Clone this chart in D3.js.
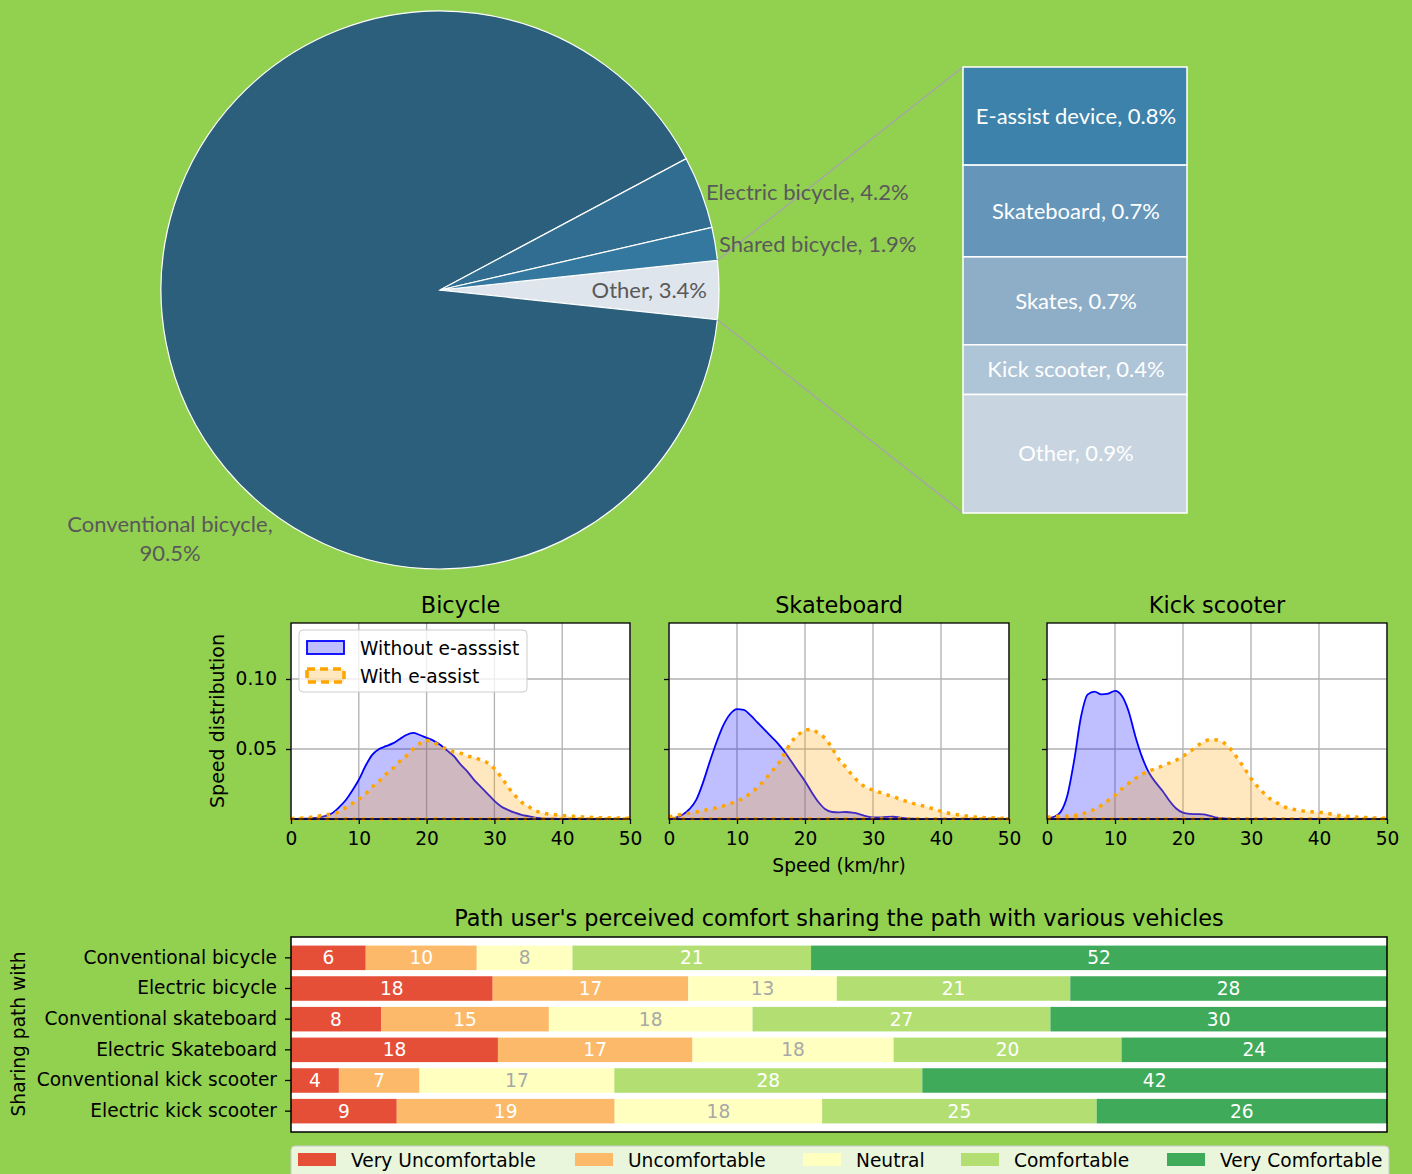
<!DOCTYPE html>
<html>
<head>
<meta charset="utf-8">
<script src="https://cdn.jsdelivr.net/npm/d3@7"></script>
<style>
  body { margin: 0; background: #92d050; }
  svg { display: block; }
</style>
</head>
<body>
<div id="chart"></div>
<script>
// ---- pie of vehicle use ----
var pieLabels = ["Other", "Conventional bicycle", "Electric bicycle", "Shared bicycle"];
var pieValues = [3.4, 90.5, 4.2, 1.9];

// breakdown of "Other"
var otherLabels = ["E-assist device", "Skateboard", "Skates", "Kick scooter", "Other"];
var otherValues = [0.77, 0.72, 0.69, 0.39, 0.93];

// ---- speed distributions (density per km/hr) ----
var speeds = [0,1,2,3,4,5,6,7,8,9,10,11,12,13,14,15,16,17,18,19,20,21,22,23,24,25,
              26,27,28,29,30,31,32,33,34,35,36,37,38,39,40,41,42,43,44,45,46,47,48,49,50];
var bicycleWithout = [0,0,0.0002,0.0005,0.001,0.002,0.004,0.008,0.013,0.02,0.028,0.038,0.046,0.05,0.052,0.054,
  0.057,0.06,0.0615,0.06,0.058,0.056,0.053,0.049,0.045,0.039,0.034,0.028,0.023,0.018,0.013,0.009,0.0065,
  0.0045,0.003,0.002,0.001,0.0005,0.0003,0.0002,0.0001,0,0,0,0,0,0,0,0,0,0];
var bicycleWith = [0.0003,0.0005,0.0008,0.0012,0.002,0.003,0.0035,0.005,0.008,0.011,0.014,0.018,0.023,0.027,
  0.032,0.036,0.041,0.045,0.05,0.054,0.056,0.055,0.052,0.05,0.048,0.047,0.045,0.044,0.042,0.04,0.036,0.03,
  0.023,0.017,0.012,0.009,0.006,0.0045,0.0035,0.003,0.0025,0.002,0.0018,0.0015,0.0012,0.001,0.0009,0.0008,
  0.0007,0.0006,0.0005];
var skateWithout = [0,0.001,0.003,0.007,0.0136,0.026,0.041,0.055,0.067,0.075,0.0785,0.078,0.074,0.069,0.064,
  0.059,0.054,0.048,0.041,0.034,0.027,0.019,0.012,0.007,0.005,0.0048,0.005,0.0045,0.0035,0.002,0.0012,
  0.0012,0.0015,0.0016,0.001,0.0005,0.0002,0,0,0,0,0,0,0,0,0,0,0,0,0,0];
var skateWith = [0.0015,0.0025,0.0035,0.0042,0.005,0.006,0.007,0.008,0.0093,0.011,0.0128,0.015,0.0185,0.0225,
  0.0275,0.0335,0.039,0.047,0.055,0.06,0.0635,0.064,0.061,0.0575,0.0505,0.0425,0.037,0.031,0.026,0.0225,
  0.0207,0.019,0.0173,0.016,0.014,0.0125,0.011,0.0098,0.0085,0.007,0.0055,0.0043,0.0034,0.0026,0.0019,
  0.0014,0.0011,0.0009,0.0007,0.0006,0.0005];
var kickWithout = [0,0.0015,0.005,0.017,0.042,0.073,0.089,0.091,0.089,0.0895,0.0915,0.088,0.077,0.059,0.044,
  0.033,0.026,0.02,0.013,0.0075,0.0045,0.0037,0.0035,0.0033,0.0022,0.001,0.0005,0.0002,0,0,0,0,0,0,0,0,0,
  0,0,0,0,0,0,0,0,0,0,0,0,0,0];
var kickWith = [0.0012,0.0017,0.002,0.0022,0.0025,0.0035,0.005,0.007,0.0098,0.0133,0.017,0.0215,0.0255,0.029,
  0.032,0.0343,0.036,0.038,0.04,0.042,0.045,0.048,0.052,0.055,0.0568,0.0565,0.0545,0.05,0.0435,0.0365,0.029,
  0.023,0.018,0.0137,0.011,0.0085,0.0072,0.0062,0.0055,0.0051,0.0049,0.0042,0.0033,0.0025,0.002,0.0015,
  0.0012,0.001,0.0007,0.0006,0.0005];
var panelTitles = ["Bicycle", "Skateboard", "Kick scooter"];
var speedTicks = [0, 10, 20, 30, 40, 50];
var densityTicks = [0.05, 0.10];

// ---- perceived comfort (% of respondents) ----
var vehicles = ["Conventional bicycle", "Electric bicycle", "Conventional skateboard",
                "Electric Skateboard", "Conventional kick scooter", "Electric kick scooter"];
var comfortLevels = ["Very Uncomfortable", "Uncomfortable", "Neutral", "Comfortable", "Very Comfortable"];
var veryUncomfortable = [6.82, 18.4, 8.22, 18.88, 4.37, 9.65];
var uncomfortable = [10.13, 17.85, 15.31, 17.75, 7.36, 19.88];
var neutral = [8.73, 13.55, 18.58, 18.35, 17.77, 18.93];
var comfortable = [21.77, 21.3, 27.18, 20.8, 28.1, 25.05];
var veryComfortable = [52.55, 28.9, 30.71, 24.22, 42.4, 26.49];

var W = 1412, H = 1174;
var mplFont = "'DejaVu Sans', sans-serif";
var xlFont = "Lato, 'Open Sans', sans-serif";
var fs = "18.6px";      // matplotlib label size
var fsTitle = "22.4px"; // matplotlib title size

var svg = d3.select("#chart").append("svg")
    .attr("width", W)
    .attr("height", H);

svg.append("rect").attr("width", W).attr("height", H).attr("fill", "#92d050");

// =================== PIE ===================
var cx = 440, cy = 290, r = 279;
var pieColors = ["#dfe5ec", "#2c5f7c", "#306d90", "#35789f"];
var otherShare = pieValues[0] / d3.sum(pieValues);
var a0 = Math.PI / 2 - otherShare * Math.PI;

var pie = d3.pie().sort(null).value(function(d) { return d; })
    .startAngle(a0).endAngle(a0 + 2 * Math.PI);
var arcs = pie(pieValues);
var arc = d3.arc().innerRadius(0).outerRadius(r);

var pieG = svg.append("g").attr("transform", "translate(" + cx + "," + cy + ")");
pieG.selectAll("path")
    .data(arcs)
    .enter()
    .append("path")
    .attr("d", arc)
    .attr("fill", function(d, i) { return pieColors[i]; })
    .attr("stroke", "#ffffff")
    .attr("stroke-width", 1.2);

// bar of "Other"
var barX = 963, barW = 224;
var barY = d3.scaleLinear().domain([0, d3.sum(otherValues)]).range([67, 513]);
var otherColors = ["#3c82ab", "#6596ba", "#8eaec7", "#aec4d7", "#c8d5e0"];
var cum = 0;
var otherStack = otherValues.map(function(v, i) {
    var s = { label: otherLabels[i], value: v, y0: cum, y1: cum + v, i: i };
    cum += v;
    return s;
});

// connector lines from the "Other" slice to the bar
var oa = arcs[0];
var p1 = [cx + r * Math.sin(oa.startAngle), cy - r * Math.cos(oa.startAngle)];
var p2 = [cx + r * Math.sin(oa.endAngle), cy - r * Math.cos(oa.endAngle)];
svg.append("line")
    .attr("x1", p1[0]).attr("y1", p1[1])
    .attr("x2", barX).attr("y2", barY(0))
    .attr("stroke", "#a6a6a6").attr("stroke-width", 1.5);
svg.append("line")
    .attr("x1", p2[0]).attr("y1", p2[1])
    .attr("x2", barX).attr("y2", barY(cum))
    .attr("stroke", "#a6a6a6").attr("stroke-width", 1.5);

svg.selectAll(".other-seg")
    .data(otherStack)
    .enter()
    .append("rect")
    .attr("class", "other-seg")
    .attr("x", barX)
    .attr("y", function(d) { return barY(d.y0); })
    .attr("width", barW)
    .attr("height", function(d) { return barY(d.y1) - barY(d.y0); })
    .attr("fill", function(d) { return otherColors[d.i]; })
    .attr("stroke", "#ffffff")
    .attr("stroke-width", 1.5);

svg.selectAll(".other-label")
    .data(otherStack)
    .enter()
    .append("text")
    .attr("class", "other-label")
    .attr("x", barX + barW / 2 + 1)
    .attr("y", function(d) { return (barY(d.y0) + barY(d.y1)) / 2; })
    .attr("dy", "0.35em")
    .attr("text-anchor", "middle")
    .attr("fill", "#ffffff")
    .style("font-family", xlFont)
    .style("font-size", "22px")
    .text(function(d) { return d.label + ", " + d3.format(".1f")(d.value) + "%"; });

// pie labels
var pieText = svg.append("g")
    .style("font-family", xlFont)
    .style("font-size", "22px")
    .attr("fill", "#595959");
pieText.append("text").attr("x", 707).attr("y", 290).attr("dy", "0.35em")
    .attr("text-anchor", "end")
    .text(pieLabels[0] + ", " + pieValues[0] + "%");
pieText.append("text").attr("x", 170).attr("y", 524).attr("dy", "0.35em")
    .attr("text-anchor", "middle")
    .text(pieLabels[1] + ",");
pieText.append("text").attr("x", 170).attr("y", 553).attr("dy", "0.35em")
    .attr("text-anchor", "middle")
    .text(pieValues[1] + "%");
pieText.append("text").attr("x", 706).attr("y", 192).attr("dy", "0.35em")
    .text(pieLabels[2] + ", " + pieValues[2] + "%");
pieText.append("text").attr("x", 719).attr("y", 244).attr("dy", "0.35em")
    .text(pieLabels[3] + ", " + pieValues[3] + "%");

// =================== DENSITY PANELS ===================
var panels = [
    { x0: 291, x1: 630, without: bicycleWithout, withE: bicycleWith },
    { x0: 669, x1: 1009, without: skateWithout, withE: skateWith },
    { x0: 1047, x1: 1387, without: kickWithout, withE: kickWith }
];
var pTop = 623, pBottom = 819;
var yDen = d3.scaleLinear().domain([0, 0.14]).range([pBottom, pTop]);

panels.forEach(function(p, pi) {
    var xSp = d3.scaleLinear().domain([0, 50]).range([p.x0, p.x1]);
    var g = svg.append("g");

    g.append("rect")
        .attr("x", p.x0).attr("y", pTop)
        .attr("width", p.x1 - p.x0).attr("height", pBottom - pTop)
        .attr("fill", "#ffffff");

    // grid
    g.selectAll(".vgrid")
        .data(speedTicks)
        .enter()
        .append("line")
        .attr("x1", function(d) { return xSp(d); })
        .attr("x2", function(d) { return xSp(d); })
        .attr("y1", pTop).attr("y2", pBottom)
        .attr("stroke", "#b0b0b0").attr("stroke-width", 1.3);
    g.selectAll(".hgrid")
        .data(densityTicks)
        .enter()
        .append("line")
        .attr("x1", p.x0).attr("x2", p.x1)
        .attr("y1", function(d) { return yDen(d); })
        .attr("y2", function(d) { return yDen(d); })
        .attr("stroke", "#b0b0b0").attr("stroke-width", 1.3);

    var area = d3.area()
        .x(function(d, i) { return xSp(speeds[i]); })
        .y0(yDen(0))
        .y1(function(d) { return yDen(d); })
        .curve(d3.curveMonotoneX);

    g.append("path")
        .attr("d", area(p.without) + "Z")
        .attr("fill", "rgba(0,0,255,0.25)")
        .attr("stroke", "#0000ff")
        .attr("stroke-width", 1.8);
    g.append("path")
        .attr("d", area(p.withE) + "Z")
        .attr("fill", "rgba(255,165,0,0.25)")
        .attr("stroke", "#ffa500")
        .attr("stroke-width", 3.5)
        .attr("stroke-dasharray", "3.5,5.5");

    // frame
    g.append("rect")
        .attr("x", p.x0).attr("y", pTop)
        .attr("width", p.x1 - p.x0).attr("height", pBottom - pTop)
        .attr("fill", "none").attr("stroke", "#000").attr("stroke-width", 1.3);

    // x axis
    var xAxis = g.append("g")
        .attr("transform", "translate(0," + pBottom + ")")
        .call(d3.axisBottom(xSp).tickValues(speedTicks).tickSize(5).tickPadding(8));
    xAxis.select(".domain").remove();
    xAxis.selectAll("text").style("font-family", mplFont).style("font-size", fs).attr("fill", "#000");
    xAxis.selectAll("line").attr("stroke-width", 1.3);

    // y axis
    var yAxis = g.append("g")
        .attr("transform", "translate(" + p.x0 + ",0)")
        .call(d3.axisLeft(yDen).tickValues(densityTicks).tickSize(5).tickPadding(9)
            .tickFormat(pi === 0 ? d3.format(".2f") : ""));
    yAxis.select(".domain").remove();
    yAxis.selectAll("text").style("font-family", mplFont).style("font-size", fs).attr("fill", "#000");
    yAxis.selectAll("line").attr("stroke-width", 1.3);

    g.append("text")
        .attr("x", (p.x0 + p.x1) / 2)
        .attr("y", 605)
        .attr("dy", "0.35em")
        .attr("text-anchor", "middle")
        .style("font-family", mplFont)
        .style("font-size", fsTitle)
        .text(panelTitles[pi]);
});

svg.append("text")
    .attr("transform", "translate(217,721) rotate(-90)")
    .attr("dy", "0.35em")
    .attr("text-anchor", "middle")
    .style("font-family", mplFont)
    .style("font-size", "19px")
    .text("Speed distribution");
svg.append("text")
    .attr("x", 839).attr("y", 865)
    .attr("dy", "0.35em")
    .attr("text-anchor", "middle")
    .style("font-family", mplFont)
    .style("font-size", fs)
    .text("Speed (km/hr)");

// legend in first panel
var lg = svg.append("g");
lg.append("rect")
    .attr("x", 299).attr("y", 630).attr("width", 228).attr("height", 62).attr("rx", 4)
    .attr("fill", "rgba(255,255,255,0.8)").attr("stroke", "#cccccc");
lg.append("rect")
    .attr("x", 307).attr("y", 641).attr("width", 37).attr("height", 13)
    .attr("fill", "rgba(0,0,255,0.25)").attr("stroke", "#0000ff").attr("stroke-width", 1.8);
lg.append("rect")
    .attr("x", 307).attr("y", 669).attr("width", 37).attr("height", 13)
    .attr("fill", "rgba(255,165,0,0.25)").attr("stroke", "#ffa500").attr("stroke-width", 3.5)
    .attr("stroke-dasharray", "8,5");
lg.append("text").attr("x", 360).attr("y", 648).attr("dy", "0.35em")
    .style("font-family", mplFont).style("font-size", fs).text("Without e-asssist");
lg.append("text").attr("x", 360).attr("y", 676).attr("dy", "0.35em")
    .style("font-family", mplFont).style("font-size", fs).text("With e-assist");

// =================== COMFORT BARS ===================
var bx0 = 291, bx1 = 1387, by0 = 937, by1 = 1132;
var comfortColors = ["#e54f38", "#fdb96a", "#ffffbf", "#b3df72", "#3faa59"];
var labelColors = ["#ffffff", "#ffffff", "#a8a8a8", "#ffffff", "#ffffff"];

var rows = vehicles.map(function(v, i) {
    return {
        vehicle: v,
        "Very Uncomfortable": veryUncomfortable[i],
        "Uncomfortable": uncomfortable[i],
        "Neutral": neutral[i],
        "Comfortable": comfortable[i],
        "Very Comfortable": veryComfortable[i]
    };
});
var stacked = d3.stack().keys(comfortLevels)(rows);

var xPct = d3.scaleLinear().domain([0, 100]).range([bx0, bx1]);
var yRow = d3.scaleBand().domain(vehicles).range([by0, by1]).paddingInner(0.2).paddingOuter(0.28);

var bg = svg.append("g");
bg.append("rect")
    .attr("x", bx0).attr("y", by0).attr("width", bx1 - bx0).attr("height", by1 - by0)
    .attr("fill", "#ffffff");

var layers = bg.selectAll(".layer")
    .data(stacked)
    .enter()
    .append("g")
    .attr("class", "layer")
    .attr("fill", function(d, i) { return comfortColors[i]; });

layers.selectAll("rect")
    .data(function(d) { return d; })
    .enter()
    .append("rect")
    .attr("x", function(d) { return xPct(d[0]); })
    .attr("y", function(d) { return yRow(d.data.vehicle); })
    .attr("width", function(d) { return xPct(d[1]) - xPct(d[0]); })
    .attr("height", yRow.bandwidth());

layers.selectAll("text")
    .data(function(d, i) { return d.map(function(s) { return { s: s, k: i }; }); })
    .enter()
    .append("text")
    .attr("x", function(d) { return (xPct(d.s[0]) + xPct(d.s[1])) / 2; })
    .attr("y", function(d) { return yRow(d.s.data.vehicle) + yRow.bandwidth() / 2; })
    .attr("dy", "0.35em")
    .attr("text-anchor", "middle")
    .attr("fill", function(d) { return labelColors[d.k]; })
    .style("font-family", mplFont)
    .style("font-size", fs)
    .text(function(d) { return Math.floor(d.s[1] - d.s[0]); });

bg.append("rect")
    .attr("x", bx0).attr("y", by0).attr("width", bx1 - bx0).attr("height", by1 - by0)
    .attr("fill", "none").attr("stroke", "#000").attr("stroke-width", 1.5);

var rowAxis = bg.append("g")
    .attr("transform", "translate(" + bx0 + ",0)")
    .call(d3.axisLeft(yRow).tickSize(6).tickPadding(8));
rowAxis.select(".domain").remove();
rowAxis.selectAll("text").style("font-family", mplFont).style("font-size", fs).attr("fill", "#000");
rowAxis.selectAll("line").attr("stroke-width", 1.3);

svg.append("text")
    .attr("x", 839).attr("y", 918)
    .attr("dy", "0.35em")
    .attr("text-anchor", "middle")
    .style("font-family", mplFont)
    .style("font-size", fsTitle)
    .text("Path user's perceived comfort sharing the path with various vehicles");

svg.append("text")
    .attr("transform", "translate(18,1034) rotate(-90)")
    .attr("dy", "0.35em")
    .attr("text-anchor", "middle")
    .style("font-family", mplFont)
    .style("font-size", fs)
    .text("Sharing path with");

// bottom legend
var legX = [298, 575, 803, 961, 1167];
var leg = svg.append("g");
leg.append("rect")
    .attr("x", 291).attr("y", 1146).attr("width", 1098).attr("height", 44).attr("rx", 4)
    .attr("fill", "rgba(255,255,255,0.8)").attr("stroke", "#cccccc");
var items = leg.selectAll(".item")
    .data(comfortLevels)
    .enter()
    .append("g")
    .attr("class", "item")
    .attr("transform", function(d, i) { return "translate(" + legX[i] + ",1153)"; });
items.append("rect")
    .attr("width", 38).attr("height", 13)
    .attr("fill", function(d, i) { return comfortColors[i]; });
items.append("text")
    .attr("x", 53).attr("y", 7).attr("dy", "0.35em")
    .style("font-family", mplFont)
    .style("font-size", fs)
    .text(function(d) { return d; });
</script>
</body>
</html>
